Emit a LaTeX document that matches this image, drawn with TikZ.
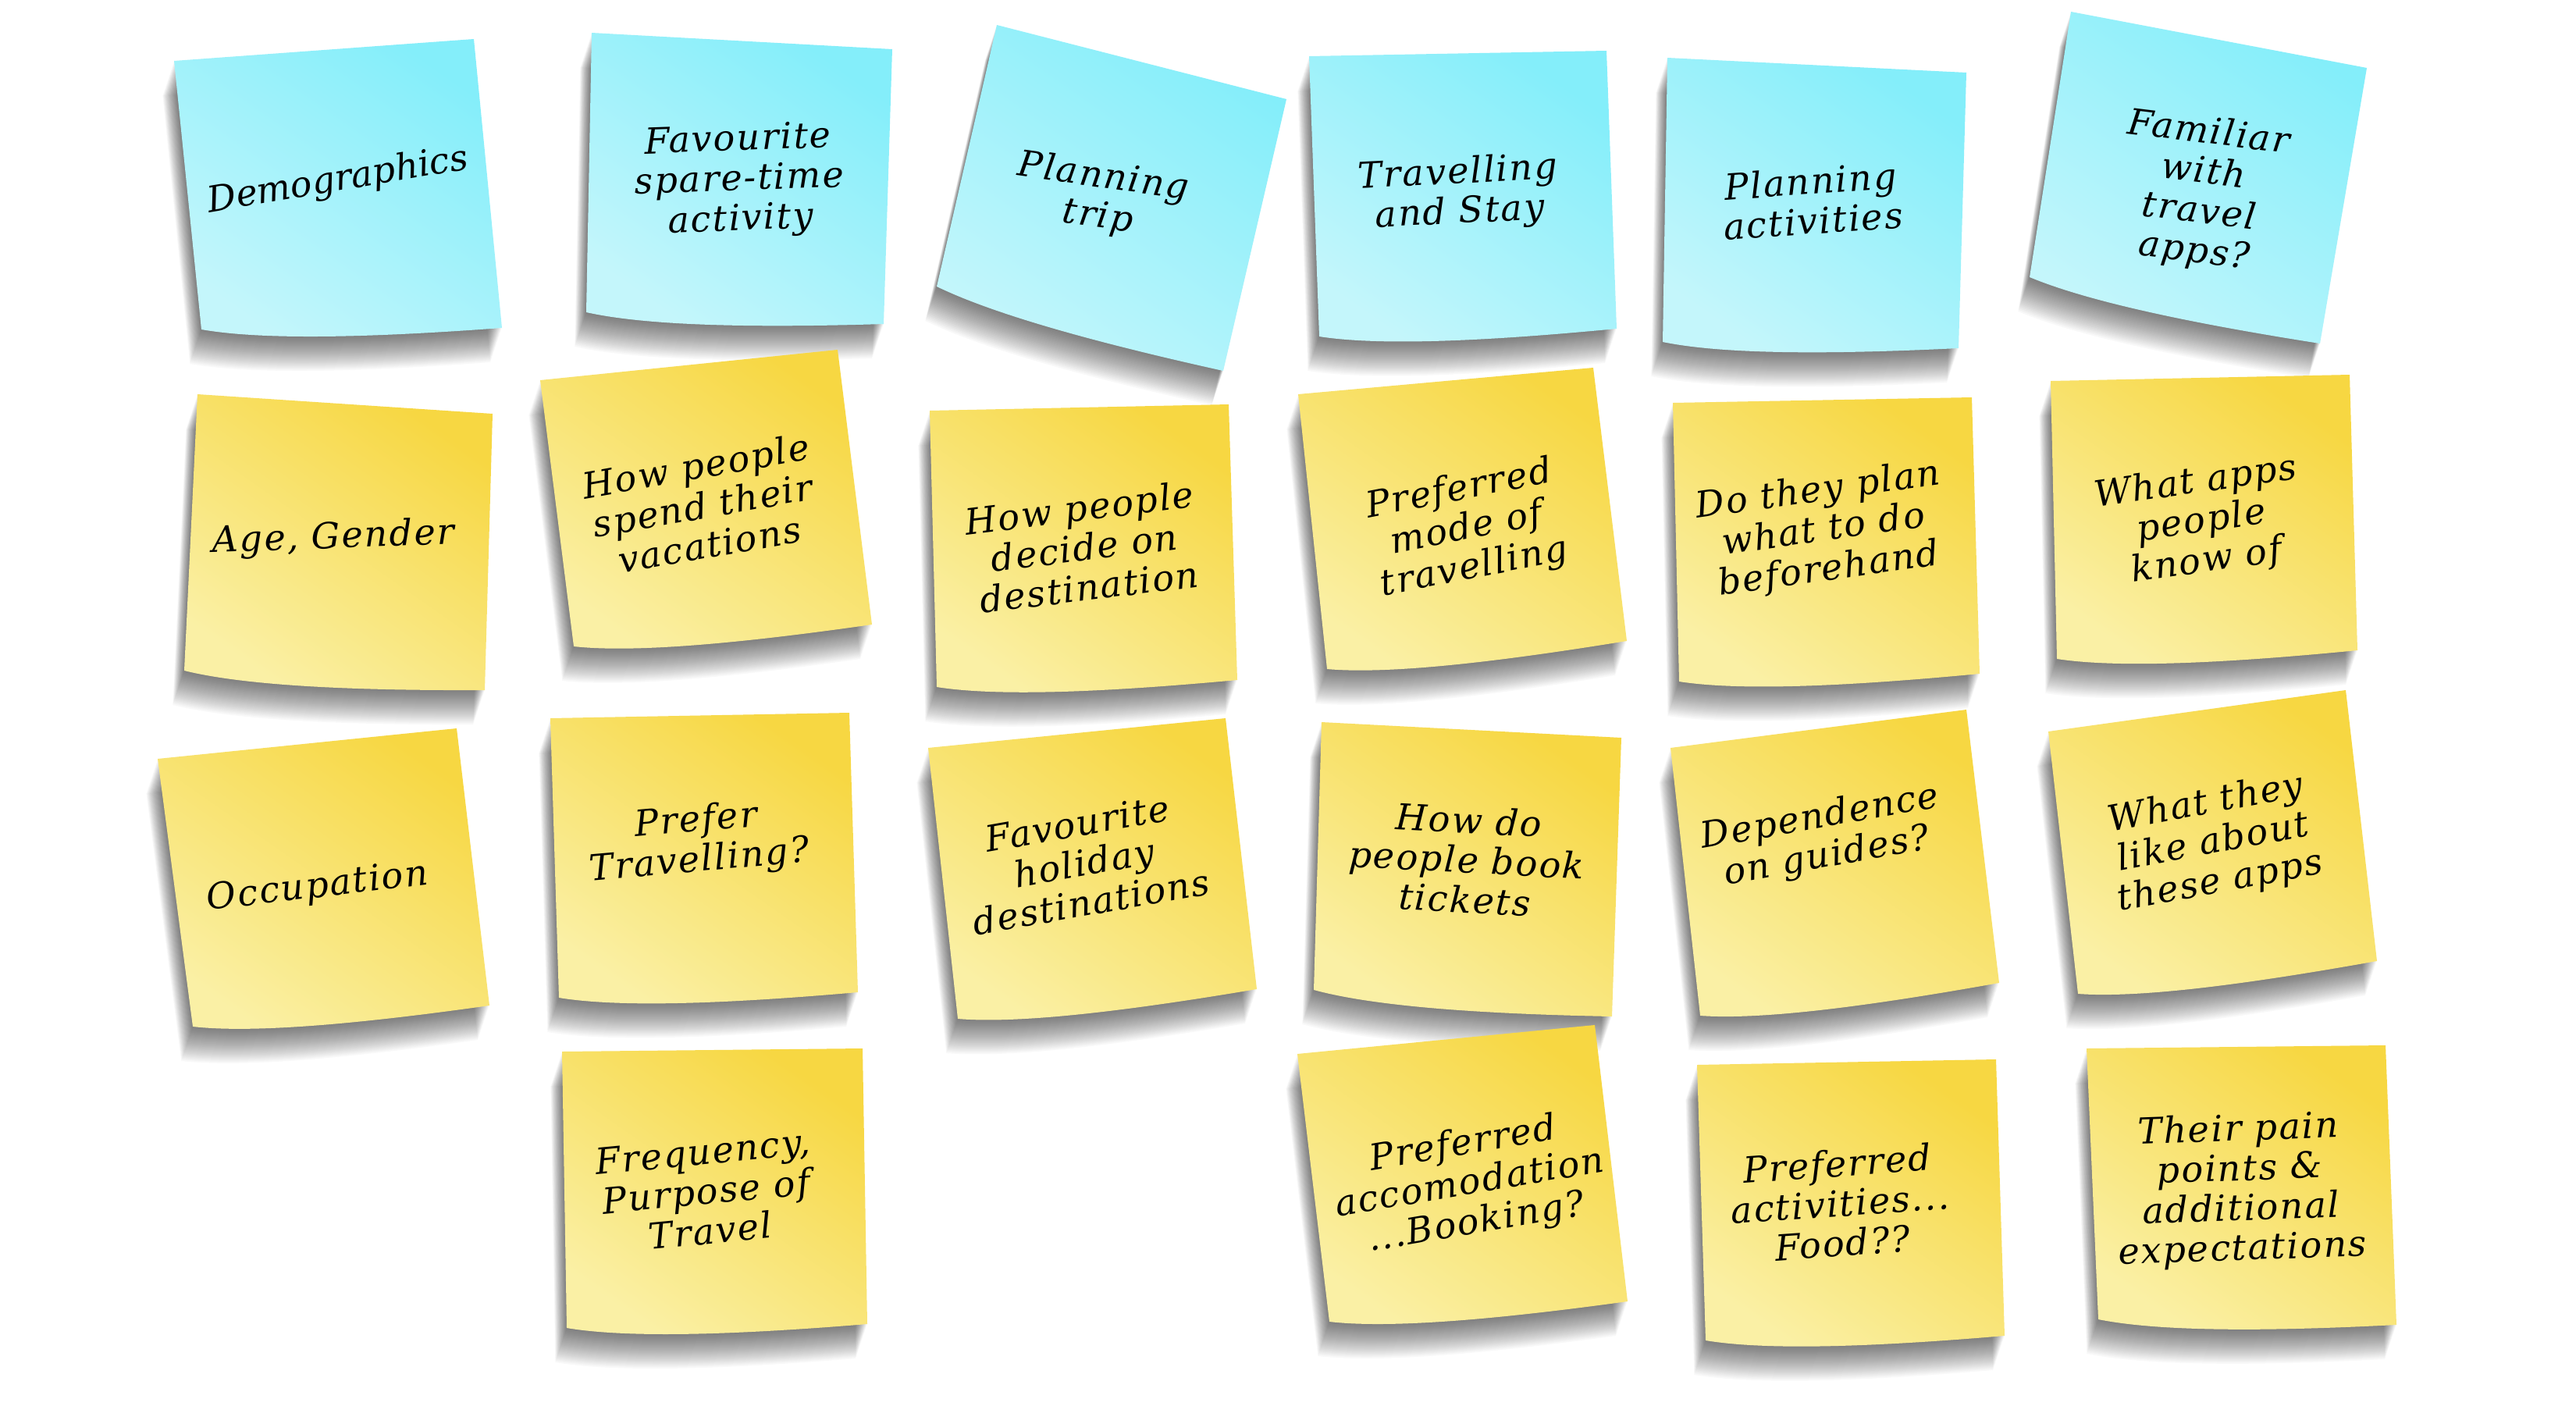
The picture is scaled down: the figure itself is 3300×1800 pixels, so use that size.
\documentclass[tikz,border=0pt]{standalone}
\usepackage{fontspec}
\newfontfamily\notefont[LetterSpace=4.5]{DejaVu Serif Italic}
\newfontfamily\notefonttight{DejaVu Serif Italic}
\usetikzlibrary{calc}
\definecolor{bluedark}{RGB}{132,238,250}
\definecolor{bluelight}{RGB}{196,246,251}
\definecolor{yeldark}{RGB}{247,215,66}
\definecolor{yellight}{RGB}{250,240,165}
\tikzset{
  bluenote/.style={top color=bluedark,bottom color=bluelight,shading angle=-35},
  yellownote/.style={top color=yeldark,bottom color=yellight,shading angle=-35},
  notetext/.style={font=\notefont\fontsize{46}{51}\selectfont,align=center,inner sep=0pt,text=black},
}
\newcommand\stickynote[9]{%
  \foreach \k in {2,4,...,44}{\fill[black,opacity=0.026,shift={({-\k/3},\k)}] #3 -- #4 -- #5 .. controls ($#5!0.45!#6+(0,12)$) and ($#5!0.8!#6+(0,14)$) .. #6 -- cycle;}
  \shade[#2] #3 -- #4 -- #5 .. controls ($#5!0.45!#6+(0,12)$) and ($#5!0.8!#6+(0,14)$) .. #6 -- cycle;
  \node[notetext,rotate=#8] (#1) at #7 {#9};
}
\begin{document}
\begin{tikzpicture}[x=1pt,y=-1pt]
\useasboundingbox (0,0) rectangle (3300,1800);
\fill[white] (0,0) rectangle (3300,1800);
% row 1
\stickynote{demo}{bluenote}{(223,78)}{(607,50)}{(643,420)}{(258,422)}{(433,232)}{9.5}{\notefonttight\fontsize{46}{51}\selectfont Demographics}
\stickynote{fav}{bluenote}{(758,42)}{(1143,63)}{(1132,415)}{(751,400)}{(947,232)}{2}{Favourite\\spare-time\\activity}
\stickynote{plan}{bluenote}{(1277,32)}{(1648,127)}{(1567,475)}{(1200,367)}{(1410,253)}{-8}{Planning\\trip}
\stickynote{trav}{bluenote}{(1677,72)}{(2058,65)}{(2071,421)}{(1690,431)}{(1869,248)}{3}{Travelling\\and Stay}
\stickynote{pact}{bluenote}{(2136,74)}{(2519,93)}{(2509,446)}{(2130,438)}{(2321,257)}{4}{Planning\\activities}
\stickynote{fam}{bluenote}{(2653,15)}{(3032,87)}{(2972,440)}{(2600,355)}{(2820,247)}{-7}{Familiar\\with\\travel\\apps?}
% row 2
\stickynote{age}{yellownote}{(253,505)}{(631,530)}{(621,884)}{(236,859)}{(427,690)}{2}{Age, Gender}
\stickynote{spend}{yellownote}{(692,487)}{(1073,448)}{(1117,800)}{(735,828)}{(900,647)}{10}{How people\\spend their\\vacations}
\stickynote{decide}{yellownote}{(1191,526)}{(1574,518)}{(1585,871)}{(1200,880)}{(1389,701)}{7}{How people\\decide on\\destination}
\stickynote{mode}{yellownote}{(1663,505)}{(2041,471)}{(2084,821)}{(1700,857)}{(1879,678)}{11}{Preferred\\mode of\\travelling}
\stickynote{doplan}{yellownote}{(2143,516)}{(2526,509)}{(2536,863)}{(2151,873)}{(2336,680)}{8}{Do they plan\\what to do\\beforehand}
\stickynote{apps}{yellownote}{(2627,488)}{(3010,480)}{(3020,833)}{(2635,844)}{(2820,669)}{8}{What apps\\people\\know of}
% row 3
\stickynote{occ}{yellownote}{(202,972)}{(585,933)}{(627,1288)}{(247,1315)}{(407,1137)}{6.7}{Occupation}
\stickynote{prefer}{yellownote}{(705,920)}{(1088,913)}{(1099,1271)}{(716,1278)}{(894,1078)}{5}{Prefer\\Travelling?}
\stickynote{favhol}{yellownote}{(1189,958)}{(1570,920)}{(1610,1267)}{(1227,1305)}{(1389,1105)}{10}{Favourite\\holiday\\destinations}
\stickynote{book}{yellownote}{(1693,925)}{(2077,945)}{(2065,1302)}{(1683,1268)}{(1879,1101)}{-3}{How do\\people book\\tickets}
\stickynote{guide}{yellownote}{(2140,958)}{(2519,909)}{(2561,1259)}{(2178,1301)}{(2336,1073)}{10}{Dependence\\on guides?}
\stickynote{like}{yellownote}{(2624,937)}{(3005,884)}{(3045,1231)}{(2662,1273)}{(2835,1080)}{10.5}{What they\\like about\\these apps}
% row 4
\stickynote{freq}{yellownote}{(720,1347)}{(1105,1343)}{(1111,1696)}{(726,1701)}{(905,1526)}{5.5}{Frequency,\\Purpose of\\Travel}
\stickynote{accom}{yellownote}{(1662,1350)}{(2043,1313)}{(2085,1667)}{(1703,1693)}{(1883,1517)}{9.6}{Preferred\\accomodation\\...Booking?}
\stickynote{pref}{yellownote}{(2174,1364)}{(2557,1357)}{(2568,1711)}{(2185,1717)}{(2357,1541)}{4}{Preferred\\activities...\\Food??}
\stickynote{pain}{yellownote}{(2673,1343)}{(3056,1339)}{(3070,1697)}{(2688,1690)}{(2870,1525)}{2}{Their pain\\points \&\\additional\\expectations}
\end{tikzpicture}
\end{document}
